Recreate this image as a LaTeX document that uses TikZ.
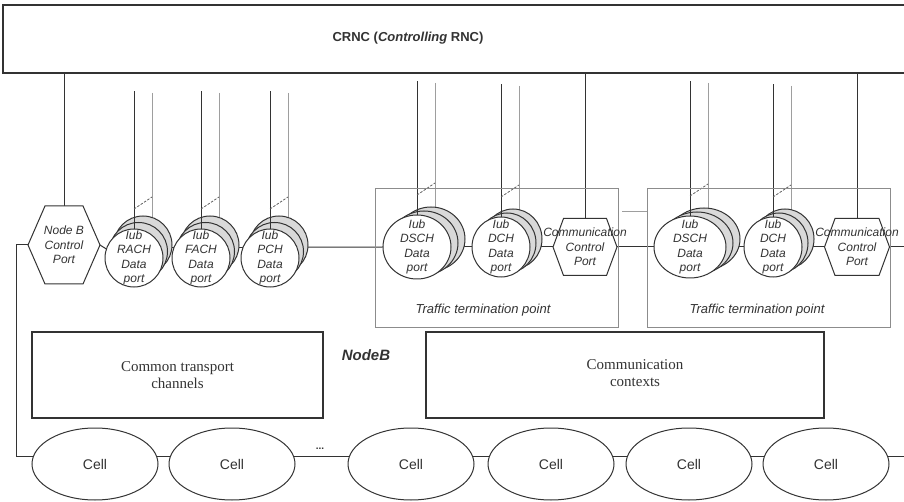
\documentclass[tikz,border=0pt]{standalone}
\usepackage{fontspec}
\setmainfont{Liberation Serif}
\setsansfont{Liberation Sans}
\usetikzlibrary{shapes.geometric,calc}
\pgfdeclarelayer{paper}
\pgfdeclarelayer{wires}
\pgfdeclarelayer{stack}
\pgfsetlayers{paper,wires,stack,main}

\definecolor{ink}{gray}{0.2}
\definecolor{softline}{gray}{0.62}
\definecolor{shade}{gray}{0.85}
\definecolor{framegray}{gray}{0.55}

\tikzset{
  wire/.style={draw=ink, line width=1pt},
  faint/.style={draw=softline, line width=0.7pt},
  dashwire/.style={draw=ink!80, line width=0.8pt, dash pattern=on 2.5pt off 1.5pt},
  port/.style={ellipse, draw=ink, line width=1pt, fill=white, inner sep=0pt, outer sep=0pt},
  portback/.style={draw=ink, line width=1pt, fill=shade},
  portlabel/.style={font=\sffamily\itshape\fontsize{12}{14.5}\selectfont, text=ink, align=center, inner sep=0pt},
  hexbox/.style={rectangle, inner sep=0pt, outer sep=0pt},
  cell/.style={ellipse, draw=ink, line width=1pt, fill=white, minimum width=126pt,
    minimum height=72pt, inner sep=0pt, font=\sffamily\fontsize{14}{16}\selectfont, text=ink},
  block/.style={rectangle, draw=ink, line width=1.2pt, inner sep=0pt,
    font=\fontsize{15}{17}\selectfont, text=ink, align=center},
  ttpbox/.style={rectangle, draw=framegray, line width=0.6pt, inner sep=0pt},
  ttplabel/.style={font=\sffamily\itshape\fontsize{13}{15}\selectfont, text=ink, inner sep=0pt},
}

% Stacked data port: name, x, y, x radius, y radius, layer step x, layer step y, top of feed line, label
\newcommand\portstack[9]{%
  \begin{pgfonlayer}{wires}
    \draw[faint] ({#2+18},{#8+2}) -- ({#2+18},{#3+2*(#7)});
  \end{pgfonlayer}
  \begin{pgfonlayer}{stack}
    \draw[portback] ({#2+2*(#6)},{#3+2*(#7)}) ellipse [x radius=#4, y radius=#5];
    \draw[portback] ({#2+#6},{#3+#7}) ellipse [x radius=#4, y radius=#5];
  \end{pgfonlayer}
  \node[port, minimum width=2*#4, minimum height=2*#5,
        label={[portlabel]center:{#9}}] (#1) at (#2,#3) {};
  \begin{pgfonlayer}{stack}
    \draw[wire] (#1.north) -- (#1.north |- 0,#8);
    \draw[dashwire] ($(#1.north)+(0,-20)$) -- ($(#1.north)+(18,-32)$);
  \end{pgfonlayer}
}

% Hexagonal outline around a box node: name, corner inset
\newcommand\hexoutline[2]{%
  \begin{pgfonlayer}{stack}
    \draw[wire, fill=white] (#1.west) -- ([xshift=#2]#1.north west) -- ([xshift=-#2]#1.north east)
      -- (#1.east) -- ([xshift=-#2]#1.south east) -- ([xshift=#2]#1.south west) -- cycle;
  \end{pgfonlayer}
}

\begin{document}
\begin{tikzpicture}[x=1pt,y=-1pt]
\useasboundingbox (0,0) rectangle (904,502);
\begin{pgfonlayer}{paper}
  \fill[white] (0,0) rectangle (904,502);
\end{pgfonlayer}

% Controlling RNC
\node[rectangle, draw=ink, line width=1.4pt, minimum width=912pt, minimum height=68pt,
      inner sep=0pt] (crnc) at (459,39) {};
\node[font=\sffamily\bfseries\fontsize{13}{15}\selectfont, text=ink] (crnctitle) at (408,38)
  {CRNC (\textit{Controlling} RNC)};

% Traffic termination points
\node[ttpbox, minimum width=243pt, minimum height=139pt] (ttp1) at (496.5,257.5) {};
\node[ttpbox, minimum width=243pt, minimum height=139pt] (ttp2) at (768.5,257.5) {};
\node[ttplabel] (ttp1label) at (483,310) {Traffic termination point};
\node[ttplabel] (ttp2label) at (757,310) {Traffic termination point};

% Control ports
\node[hexbox, minimum width=72pt, minimum height=78pt,
      label={[portlabel]center:{Node B\\Control\\Port}}] (nbcp) at (64,245) {};
\hexoutline{nbcp}{17pt}
\node[hexbox, minimum width=64pt, minimum height=57pt,
      label={[portlabel]center:{Communication\\Control\\Port}}] (ccp1) at (585,247) {};
\hexoutline{ccp1}{10.5pt}
\node[hexbox, minimum width=65pt, minimum height=57pt,
      label={[portlabel]center:{Communication\\Control\\Port}}] (ccp2) at (857,247) {};
\hexoutline{ccp2}{10.5pt}

% Iub data ports
\portstack{rach}{134}{258}{29}{29}{4.5}{-6.5}{91}{Iub\\RACH\\Data\\port}
\portstack{fach}{201}{258}{29}{29}{4.5}{-6.5}{91}{Iub\\FACH\\Data\\port}
\portstack{pch}{270}{258}{29}{29}{4.5}{-6.5}{91}{Iub\\PCH\\Data\\port}
\portstack{dsch1}{417}{247}{34}{32}{7}{-4}{81}{Iub\\DSCH\\Data\\port}
\portstack{dch1}{501}{247}{29}{30}{6}{-4}{84}{Iub\\DCH\\Data\\port}
\portstack{dsch2}{690}{247}{36}{31}{7}{-4}{81}{Iub\\DSCH\\Data\\port}
\portstack{dch2}{773}{247}{29}{30}{6}{-4}{84}{Iub\\DCH\\Data\\port}

% Node B internals
\node[block, minimum width=291pt, minimum height=86pt] (ctc) at (177.5,375)
  {Common transport\\channels};
\node[block, minimum width=398pt, minimum height=86pt] (ctx) at (625,375) {};
\node[font=\fontsize{15}{17}\selectfont, text=ink, align=center] (ctxtext) at (635,373)
  {Communication\\contexts};
\node[font=\sffamily\bfseries\itshape\fontsize{15}{17}\selectfont, text=ink] (nodeb) at (366,355) {NodeB};

% Cells
\node[cell] (c1) at (95,464) {Cell};
\node[cell] (c2) at (232,464) {Cell};
\node[cell] (c3) at (411,464) {Cell};
\node[cell] (c4) at (551,464) {Cell};
\node[cell] (c5) at (689,464) {Cell};
\node[cell] (c6) at (826,464) {Cell};
\node[font=\sffamily\bfseries\fontsize{10}{10}\selectfont, text=ink, inner sep=0pt] (gap) at (320,449) {...};

\coordinate (lt) at (16,0);
\coordinate (rend) at (912,247);
\coordinate (bend) at (912,0);

\begin{pgfonlayer}{wires}
  % links up to the CRNC
  \draw[wire] (crnc.south -| nbcp.north) -- (nbcp.north);
  \draw[wire] (crnc.south -| ccp1.north) -- (ccp1.north);
  \draw[wire] (crnc.south -| ccp2.north) -- (ccp2.north);
  % port chain
  \draw[wire] (nbcp.west) -- (nbcp.west -| lt) |- (c1.173);
  \draw[wire] (nbcp.east) -- (rach.162);
  \draw[wire] (rach.22) -- (fach.158);
  \draw[wire] (fach.22) -- (pch.158);
  \draw[wire] (pch.22) -- (dsch1.west);
  \draw[wire] (dsch1.east) -- (dch1.west);
  \draw[wire] (dch1.east) -- (ccp1.west);
  \draw[wire] (ccp1.east) -- (dsch2.west);
  \draw[wire] (dsch2.east) -- (dch2.west);
  \draw[wire] (dch2.east) -- (ccp2.west);
  \draw[wire] (ccp2.east) -- (rend);
  % link between the two termination points
  \draw[faint] ($(ttp1.north east)+(4,24)$) -- ($(ttp2.north west)+(0,24)$);
  % cell chain
  \draw[wire] (c1.7) -- (c2.173);
  \draw[wire] (c2.7) -- (c3.173);
  \draw[wire] (c3.7) -- (c4.173);
  \draw[wire] (c4.7) -- (c5.173);
  \draw[wire] (c5.7) -- (c6.173);
  \draw[wire] (c6.7) -- (c6.7 -| bend);
\end{pgfonlayer}
\end{tikzpicture}
\end{document}
